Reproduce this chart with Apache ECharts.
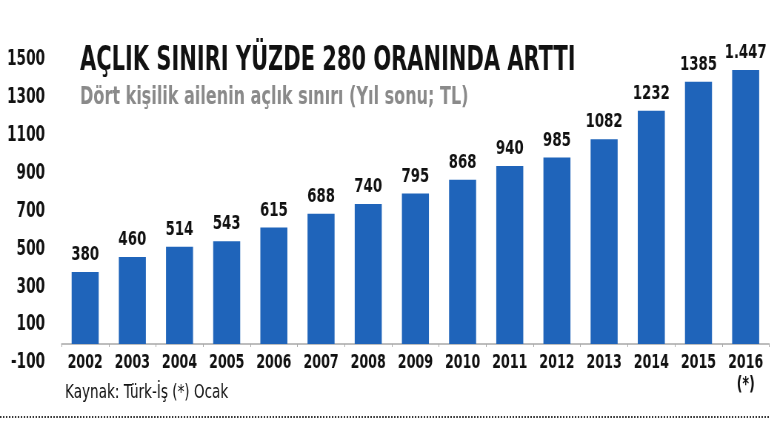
<!DOCTYPE html>
<html>
<head>
<meta charset="utf-8">
<script src="https://cdn.jsdelivr.net/npm/echarts@6/dist/echarts.min.js"></script>
<style>
html,body{margin:0;padding:0;background:#fff;overflow:hidden;}
#wrap{width:770px;height:434px;overflow:hidden;position:relative;}
#c{height:434px;transform-origin:0 0;position:absolute;left:0;top:0;}
</style>
</head>
<body>
<div id="wrap"><div id="c"></div></div>
<script>
const years = ['2002','2003','2004','2005','2006','2007','2008','2009','2010','2011','2012','2013','2014','2015','2016'];
const yearLabels = ['2002','2003','2004','2005','2006','2007','2008','2009','2010','2011','2012','2013','2014','2015','2016\n(*)'];
const values = [380,460,514,543,615,688,740,795,868,940,985,1082,1232,1385,1447];
const valueLabels = ['380','460','514','543','615','688','740','795','868','940','985','1082','1232','1385','1.447'];
const titleText = 'AÇLIK SINIRI YÜZDE 280 ORANINDA ARTTI';
const subtitleText = 'Dört kişilik ailenin açlık sınırı (Yıl sonu; TL)';
const footerText = 'Kaynak: Türk-İş (*) Ocak';

// horizontal condensing of the whole drawing (reference uses a condensed typeface)
const S = 0.74;
const W = 770 / S;
const el = document.getElementById('c');
el.style.width = W + 'px';
el.style.transform = 'scaleX(' + S + ')';

const FF = '"DejaVu Sans Condensed", "DejaVu Sans", sans-serif';
const ctx = document.createElement('canvas').getContext('2d');
function fitScale(text, font, target){
  ctx.font = font;
  const w = ctx.measureText(text).width;
  return w > 0 ? (target / S) / w : 1;
}
const tFont = 'bold 33px ' + FF;
const sFont = 'bold 25px ' + FF;
const fFont = '19px ' + FF;
const tScale = fitScale(titleText, tFont, 495);
const sScale = fitScale(subtitleText, sFont, 388);
const fScale = fitScale(footerText, fFont, 163);
const X = v => v / S;

const chart = echarts.init(el, null, {renderer:'canvas', width:W, height:434});
chart.setOption({
  animation:false,
  backgroundColor:'#ffffff',
  grid:{left:X(61.5), right:X(1.5), top:60, bottom:71, containLabel:false},
  xAxis:{
    type:'category',
    data:yearLabels,
    offset:-19,
    axisLine:{onZero:false, lineStyle:{color:'#a8a8a8', width:1.5}},
    axisTick:{show:true, length:3, lineStyle:{color:'#a8a8a8'}},
    axisLabel:{color:'#111', fontFamily:FF, fontWeight:'bold', fontSize:19, margin:8, lineHeight:22, interval:0}
  },
  yAxis:{
    type:'value',
    min:-100, max:1500, interval:100,
    splitLine:{show:false},
    axisLine:{show:false},
    axisTick:{show:false},
    axisLabel:{
      color:'#111', fontFamily:FF, fontWeight:'bold', fontSize:20.5, margin:X(16.5),
      formatter:function(v){ return (Math.round(v/100) % 2 !== 0) ? String(v) : ''; }
    }
  },
  series:[{
    type:'bar',
    data:values,
    barWidth:X(27),
    itemStyle:{color:'#1f64ba'},
    label:{
      show:true, position:'top', distance:7,
      color:'#111', fontFamily:FF, fontWeight:'bold', fontSize:20,
      formatter:function(p){ return valueLabels[p.dataIndex]; }
    }
  }],
  graphic:[
    {type:'text', x:X(80), y:61, scaleX:tScale, scaleY:1,
     style:{text:titleText, font:tFont, fill:'#111', verticalAlign:'middle'}},
    {type:'text', x:X(80), y:97, scaleX:sScale, scaleY:1,
     style:{text:subtitleText, font:sFont, fill:'#8a8a8a', verticalAlign:'middle'}},
    {type:'text', x:X(65), y:393, scaleX:fScale, scaleY:1,
     style:{text:footerText, font:fFont, fill:'#111', verticalAlign:'middle'}},
    {type:'line', shape:{x1:0, y1:417, x2:W, y2:417},
     style:{stroke:'#222', lineWidth:1.8, lineDash:[2,2]}}
  ]
});
</script>
</body>
</html>
